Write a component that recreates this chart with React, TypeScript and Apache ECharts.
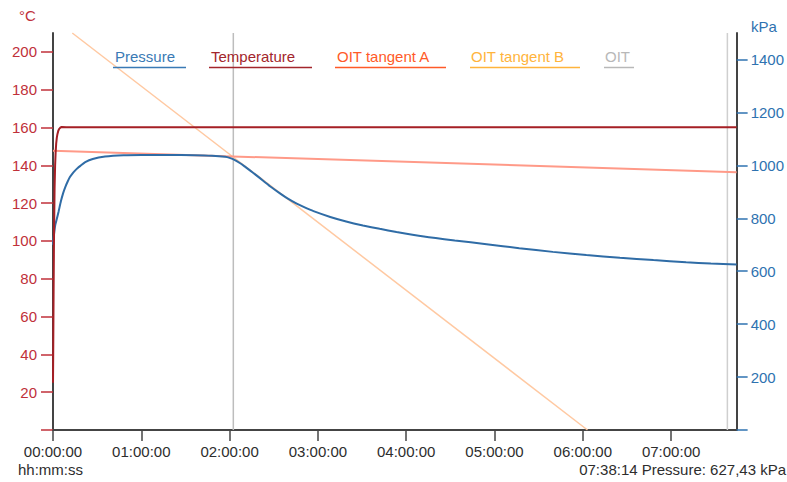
import React, { useEffect, useRef } from "react";
import * as echarts from "echarts";

// Time in hours
const pressureTimes = [0, 0.01, 0.026, 0.045, 0.063, 0.09, 0.115, 0.139, 0.165, 0.19, 0.22, 0.252, 0.28, 0.31, 0.365, 0.45, 0.59, 0.8, 1.0, 1.3, 1.6, 1.8, 1.95, 2.0, 2.06, 2.12, 2.17, 2.23, 2.3, 2.38, 2.47, 2.57, 2.66, 2.76, 2.85, 2.95, 3.14, 3.32, 3.51, 3.7, 3.89, 4.2, 4.55, 4.91, 5.28, 5.66, 6.04, 6.42, 6.8, 7.17, 7.45, 7.742];
const pressureValues = [700, 735, 775, 800, 825, 865, 895, 918, 938, 955, 969, 981, 990, 998, 1012, 1024, 1033, 1038, 1039, 1039, 1038, 1036, 1032, 1028, 1020, 1008, 996, 981, 963, 942, 918, 894, 874, 855, 841, 827, 805, 788, 773, 760, 748, 731, 716, 702, 687, 673, 661, 651, 642, 634, 629, 625];

const temperatureTimes = [0, 0.003, 0.007, 0.012, 0.018, 0.024, 0.03, 0.036, 0.043, 0.05, 0.06, 0.07, 0.085, 0.1, 0.15, 1, 2, 3, 4, 5, 6, 7, 7.742];
const temperatureValues = [25, 45, 75, 105, 128, 140, 147, 151.5, 154.5, 156.5, 158.3, 159.3, 160, 160.3, 160.2, 160.2, 160.2, 160.2, 160.2, 160.2, 160.2, 160.2, 160.2];

const tangentATimes = [0, 7.742];
const tangentAValues = [1055, 974];
const tangentBTimes = [0.218, 6.053];
const tangentBValues = [1500, 0];

const oitTime = 2.042;
const cursorSeconds = 27494;
const cursorPressure = 627.43;

const xTicks = [0, 1, 2, 3, 4, 5, 6, 7];
const tempTicks = [0, 20, 40, 60, 80, 100, 120, 140, 160, 180, 200];
const tempLabels = [20, 40, 60, 80, 100, 120, 140, 160, 180, 200];
const pressTicks = [0, 200, 400, 600, 800, 1000, 1200, 1400];
const pressLabels = [200, 400, 600, 800, 1000, 1200, 1400];

const legendNames = ["Pressure", "Temperature", "OIT tangent A", "OIT tangent B", "OIT"];
const legendColors = ["#3a7ab5", "#a3262c", "#ff5a28", "#ffb43c", "#b8b8b8"];

const FONT = "Liberation Sans, Arial, sans-serif";

function hms(h: number): string {
  const s = Math.round(h * 3600);
  const hh = Math.floor(s / 3600);
  const mm = Math.floor((s % 3600) / 60);
  const ss = s % 60;
  const p = (n: number) => String(n).padStart(2, "0");
  return `${p(hh)}:${p(mm)}:${p(ss)}`;
}

const zip = (a: number[], b: number[]) => a.map((v, i) => [v, b[i]]);

export default function App() {
  const ref = useRef<HTMLDivElement>(null);
  useEffect(() => {
    if (!ref.current) return;
    const chart = echarts.init(ref.current, undefined, { renderer: "svg" });
    const cursorTime = cursorSeconds / 3600;

    const legendX = [115, 211, 337, 471, 605];
    const underlineX = [[113, 186], [209, 312], [335, 446], [470, 580], [604, 634]];
    const graphics: any[] = [];
    legendNames.forEach((n, i) => {
      graphics.push({
        type: "text",
        x: legendX[i],
        y: 56,
        style: { text: n, fill: legendColors[i], font: `15px ${FONT}`, textVerticalAlign: "middle" },
        z: 10,
      });
      graphics.push({
        type: "line",
        shape: { x1: underlineX[i][0], y1: 67.5, x2: underlineX[i][1], y2: 67.5 },
        style: { stroke: legendColors[i], lineWidth: 1.5 },
        z: 10,
      });
    });
    graphics.push({ type: "text", x: 19, y: 15, style: { text: "°C", fill: "#c0303a", font: `15px ${FONT}`, textVerticalAlign: "middle" } });
    graphics.push({ type: "text", x: 751, y: 26, style: { text: "kPa", fill: "#2e72b0", font: `15px ${FONT}`, textVerticalAlign: "middle" } });
    graphics.push({ type: "text", x: 18, y: 469, style: { text: "hh:mm:ss", fill: "#2d2d2d", font: `15px ${FONT}`, textVerticalAlign: "middle" } });
    graphics.push({
      type: "text",
      x: 786,
      y: 469,
      style: {
        text: `${hms(cursorTime)} Pressure: ${cursorPressure.toFixed(2).replace(".", ",")} kPa`,
        fill: "#2d2d2d",
        font: `15px ${FONT}`,
        textAlign: "right",
        textVerticalAlign: "middle",
      },
    });

    chart.setOption({
      animation: false,
      grid: { left: 53, right: 50, top: 33, bottom: 52 },
      xAxis: {
        type: "value",
        min: 0,
        max: 7.742,
        interval: 1,
        splitLine: { show: false },
        axisLine: { show: true, lineStyle: { color: "#444", width: 2 } },
        axisTick: { show: true, length: 11, customValues: xTicks, lineStyle: { color: "#444", width: 1.5 } },
        axisLabel: {
          customValues: xTicks,
          formatter: (v: number) => hms(v),
          color: "#2d2d2d",
          fontSize: 15,
          fontFamily: FONT,
          margin: 14,
        },
      },
      yAxis: [
        {
          type: "value",
          position: "left",
          min: 0,
          max: 210,
          interval: 20,
          splitLine: { show: false },
          axisLine: { show: true, lineStyle: { color: "#444", width: 2 } },
          axisTick: { show: true, length: 12, customValues: tempTicks, lineStyle: { color: "#c0303a", width: 1.5 } },
          axisLabel: { customValues: tempLabels, formatter: (v: number) => String(v), color: "#c0303a", fontSize: 15, fontFamily: FONT, margin: 16 },
        },
        {
          type: "value",
          position: "right",
          min: 0,
          max: 1500,
          interval: 200,
          splitLine: { show: false },
          axisLine: { show: true, lineStyle: { color: "#444", width: 2 } },
          axisTick: { show: true, length: 11, customValues: pressTicks, lineStyle: { color: "#2e72b0", width: 1.5 } },
          axisLabel: { customValues: pressLabels, formatter: (v: number) => String(v), color: "#2e72b0", fontSize: 15, fontFamily: FONT, margin: 14 },
        },
      ],
      graphic: graphics,
      series: [
        {
          name: "OIT",
          type: "line",
          yAxisIndex: 1,
          data: [[oitTime, 0], [oitTime, 1500]],
          showSymbol: false,
          lineStyle: { color: "#bdbdbd", width: 1.5 },
          silent: true,
        },
        {
          name: "Cursor",
          type: "line",
          yAxisIndex: 1,
          data: [[cursorTime, 0], [cursorTime, 1500]],
          showSymbol: false,
          lineStyle: { color: "#cfcfcf", width: 1.5 },
          silent: true,
        },
        {
          name: "OIT tangent B",
          type: "line",
          yAxisIndex: 1,
          data: zip(tangentBTimes, tangentBValues),
          showSymbol: false,
          lineStyle: { color: "#ffc9a2", width: 1.5 },
        },
        {
          name: "OIT tangent A",
          type: "line",
          yAxisIndex: 1,
          data: zip(tangentATimes, tangentAValues),
          showSymbol: false,
          lineStyle: { color: "#ff9a88", width: 2 },
        },
        {
          name: "Pressure",
          type: "line",
          yAxisIndex: 1,
          data: zip(pressureTimes, pressureValues),
          showSymbol: false,
          smooth: 0.2,
          lineStyle: { color: "#2f6ca6", width: 2 },
        },
        {
          name: "Temperature",
          type: "line",
          yAxisIndex: 0,
          data: zip(temperatureTimes, temperatureValues),
          showSymbol: false,
          lineStyle: { color: "#a51f25", width: 2 },
        },
      ],
    });
    return () => chart.dispose();
  }, []);
  return (
    <div
      ref={ref}
      style={{ position: "fixed", left: 0, top: 0, width: 787, height: 482, background: "#fff" }}
    />
  );
}
